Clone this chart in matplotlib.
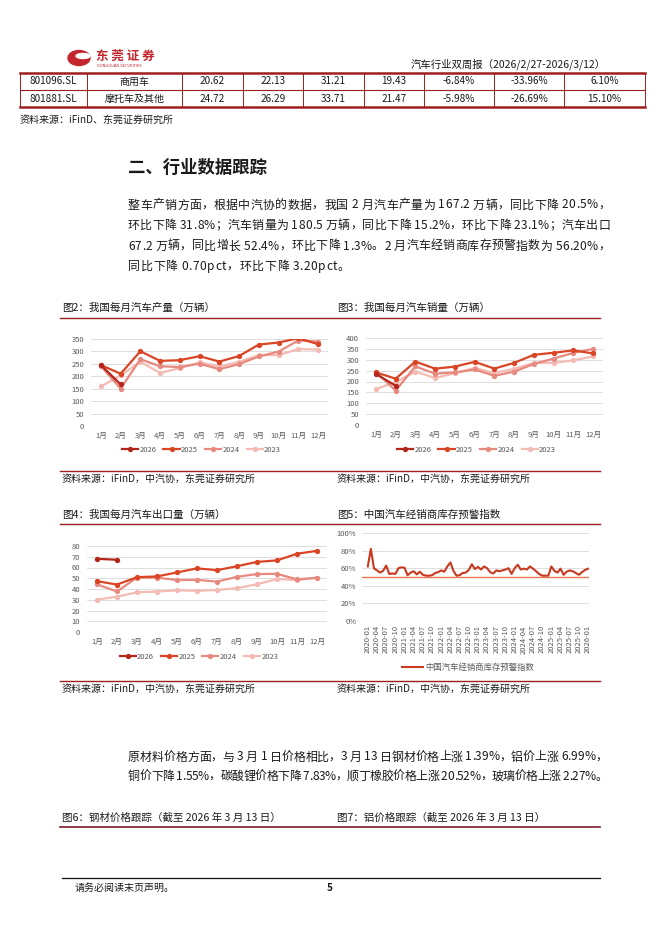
import numpy as np
import matplotlib.pyplot as plt
from matplotlib.lines import Line2D
from matplotlib.patches import Ellipse

plt.rcParams['font.family'] = ['Noto Sans CJK SC', 'DejaVu Sans']

W, H = 662, 936

# ---------------- data ----------------
table_rows = [
    ['801096.SL', '商用车', '20.62', '22.13', '31.21', '19.43', '-6.84%', '-33.96%', '6.10%'],
    ['801881.SL', '摩托车及其他', '24.72', '26.29', '33.71', '21.47', '-5.98%', '-26.69%', '15.10%'],
]

months = ['1月', '2月', '3月', '4月', '5月', '6月', '7月', '8月', '9月', '10月', '11月', '12月']
years = ['2026', '2025', '2024', '2023']

prod_2026 = [245.0, 167.2]
prod_2025 = [245.2, 210.3, 300.6, 261.9, 264.9, 280.9, 259.1, 281.5, 327.6, 335.9, 353.2, 329.0]
prod_2024 = [241.0, 150.6, 268.7, 240.3, 237.2, 250.7, 228.6, 249.2, 279.6, 299.6, 343.9, 339.6]
prod_2023 = [159.4, 203.2, 258.4, 213.3, 233.3, 256.1, 240.1, 258.2, 285.0, 285.5, 309.3, 307.7]

sales_2026 = [234.7, 180.5]
sales_2025 = [242.3, 212.9, 291.5, 259.0, 268.6, 290.4, 259.3, 285.7, 322.7, 332.2, 342.9, 329.0]
sales_2024 = [243.9, 158.4, 269.4, 235.9, 241.7, 255.3, 226.2, 245.3, 280.9, 305.3, 331.6, 349.9]
sales_2023 = [164.9, 197.6, 245.1, 215.9, 238.2, 262.2, 238.7, 258.2, 285.8, 285.3, 297.0, 315.6]

exp_2026 = [68.1, 67.2]
exp_2025 = [47.3, 44.1, 51.0, 51.7, 55.4, 59.2, 57.5, 61.2, 65.2, 66.6, 72.8, 75.5]
exp_2024 = [44.3, 37.7, 50.6, 50.6, 48.3, 48.5, 46.9, 51.3, 53.9, 54.1, 49.0, 50.4]
exp_2023 = [30.1, 32.9, 36.9, 37.6, 38.8, 38.3, 39.1, 40.8, 44.4, 49.3, 48.3, 50.6]

# dealer inventory warning index, monthly 2020-01 .. 2026-01 (%)
inv_index = [62.0, 82.0, 60.0, 57.5, 55.0, 57.0, 63.0, 53.5, 54.0, 53.5, 60.0, 61.0,
             60.5, 52.0, 55.0, 56.5, 53.0, 56.0, 52.5, 51.5, 51.5, 52.0, 54.5, 55.5,
             57.5, 56.0, 62.0, 66.5, 57.0, 51.5, 52.0, 54.5, 55.0, 58.0, 64.5, 59.0,
             61.5, 58.5, 62.0, 60.0, 55.5, 54.0, 57.5, 56.5, 57.5, 58.5, 60.0, 53.5,
             60.0, 64.0, 58.5, 59.5, 58.5, 62.0, 59.5, 56.5, 53.5, 51.5, 51.5, 51.5,
             62.0, 57.0, 55.0, 59.5, 52.5, 56.0, 57.5, 56.5, 54.5, 52.5, 55.5, 58.0, 59.4]
inv_labels = [f'{2020 + i // 12}-{i % 12 + 1:02d}' for i in range(0, 73, 3)]
warn_level = 50

para1 = ['整车产销方面，根据中汽协的数据，我国 2 月汽车产量为 167.2 万辆，同比下降 20.5%，',
         '环比下降 31.8%；汽车销量为 180.5 万辆，同比下降 15.2%，环比下降 23.1%；汽车出口',
         '67.2 万辆，同比增长 52.4%，环比下降 1.3%。2 月汽车经销商库存预警指数为 56.20%，',
         '同比下降 0.70pct，环比下降 3.20pct。']
para2 = ['原材料价格方面，与 3 月 1 日价格相比，3 月 13 日钢材价格上涨 1.39%，铝价上涨 6.99%，',
         '铜价下降 1.55%，碳酸锂价格下降 7.83%，顺丁橡胶价格上涨 20.52%，玻璃价格上涨 2.27%。']

colors = ['#B3261C', '#DA4526', '#E8897F', '#F4BAB4']
dark_red = '#9E1F1F'
txt_c = '#1A1A1A'
gray = '#595959'

fig = plt.figure(figsize=(6.62, 9.36), dpi=100)
renderer = fig.canvas.get_renderer()


def fx(x):
    return x / W


def fy(y):
    return 1 - y / H


def text(x, y, s, size=7.2, **kw):
    kw.setdefault('color', txt_c)
    kw.setdefault('va', 'center')
    return fig.text(fx(x), fy(y), s, fontsize=size, **kw)


def justified(x0, x1, y, s, size, stretch=True):
    # place characters one by one so the line fills x0..x1 like the report's justified text
    objs, widths = [], []
    for ch in s:
        if ch == ' ':
            objs.append(None)
            widths.append(size * 0.3)
            continue
        t = text(0, y, ch, size=size)
        objs.append(t)
        widths.append(t.get_window_extent(renderer).width)
    gap = (x1 - x0 - sum(widths)) / (len(s) - 1) if stretch else 0.6
    x = x0
    for t, w in zip(objs, widths):
        if t is not None:
            t.set_x(fx(x))
        x += w + gap


def hline(x0, x1, y, color=dark_red, lw=1.0):
    fig.add_artist(Line2D([fx(x0), fx(x1)], [fy(y), fy(y)], color=color, lw=lw))


def vline(x, y0, y1, color=dark_red, lw=0.7):
    fig.add_artist(Line2D([fx(x), fx(x)], [fy(y0), fy(y1)], color=color, lw=lw))


# ---------------- header ----------------
fig.add_artist(Ellipse((fx(79), fy(58)), fx(22), 15 / H, color='#C4262E'))
fig.add_artist(Ellipse((fx(83), fy(56)), fx(14), 5 / H, color='white'))
text(96, 56, '东 莞 证 券', size=9, color='#C4262E', weight='bold')
text(97, 66, 'DONGGUAN SECURITIES', size=2.6, color='#C4262E', family='DejaVu Sans')
text(411, 64, '汽车行业双周报（2026/2/27-2026/3/12）', size=7.5)

# ---------------- table ----------------
col_edges = [20, 87, 182, 243, 303, 364, 424, 494, 564, 645]
row_edges = [73, 90, 107]
hline(20, 645, 73, lw=1.8)
hline(20, 645, 90, lw=0.8)
hline(20, 645, 107, lw=1.8)
for xe in col_edges:
    vline(xe, 73, 107)
for r, row in enumerate(table_rows):
    yc = (row_edges[r] + row_edges[r + 1]) / 2
    for c, val in enumerate(row):
        xc = (col_edges[c] + col_edges[c + 1]) / 2
        text(xc, yc, val, size=7.2, ha='center')
text(20, 120, '资料来源：iFinD、东莞证券研究所', size=7.2)

# ---------------- section text ----------------
text(128, 168, '二、行业数据跟踪', size=12.5, weight='bold')
for i, line in enumerate(para1):
    justified(128, 610, 205 + i * 20.5, line, 8.6, stretch=i < len(para1) - 1)
for i, line in enumerate(para2):
    justified(128, 607, 757 + i * 19.5, line, 8.6)


# ---------------- monthly charts ----------------
def month_chart(box, series, ymax, ystep, legend_y):
    x0, y0, x1, y1 = box
    ax = fig.add_axes([fx(x0), fy(y1), fx(x1) - fx(x0), fy(y0) - fy(y1)])
    for k in range(len(series) - 1, -1, -1):
        vals = series[k]
        ax.plot(range(len(vals)), vals, color=colors[k], lw=1.6, marker='o', ms=2.8,
                label=years[k], zorder=3 + (3 - k))
    ax.set_xlim(-0.5, 11.5)
    ax.set_ylim(0, ymax)
    ax.set_yticks(np.arange(0, ymax + 1, ystep))
    ax.set_xticks(range(12))
    ax.set_xticklabels(months)
    ax.grid(axis='y', color='#D9D9D9', lw=0.6)
    ax.set_axisbelow(True)
    for s in ax.spines.values():
        s.set_visible(False)
    ax.tick_params(length=0, labelsize=5.5, colors=gray)
    ax.tick_params(axis='y', pad=5)
    ax.tick_params(axis='x', pad=4)
    handles = [Line2D([], [], color=colors[k], lw=1.6, marker='o', ms=2.8) for k in range(4)]
    fig.legend(handles, years, ncol=4, loc='center',
               bbox_to_anchor=(fx((x0 + x1) / 2 - 8), fy(legend_y)), frameon=False,
               fontsize=5.5, handlelength=2.1, handletextpad=0.2, columnspacing=0.9,
               labelcolor=gray)
    return ax


def caption(x, y, s):
    text(x, y, s, size=7.6)


# chart row 1
caption(62, 308, '图2：我国每月汽车产量（万辆）')
caption(337, 308, '图3：我国每月汽车销量（万辆）')
hline(60, 600, 318, lw=1.0)
month_chart((91, 339, 328, 426), [prod_2026, prod_2025, prod_2024, prod_2023], 350, 50, 450)
month_chart((366, 338, 603, 425), [sales_2026, sales_2025, sales_2024, sales_2023], 400, 50, 450)
hline(60, 600, 471, lw=1.0)
text(62, 479, '资料来源：iFinD，中汽协，东莞证券研究所', size=7.2)
text(337, 479, '资料来源：iFinD，中汽协，东莞证券研究所', size=7.2)

# chart row 2
caption(62, 515, '图4：我国每月汽车出口量（万辆）')
caption(337, 515, '图5：中国汽车经销商库存预警指数')
hline(60, 600, 524, lw=1.0)
month_chart((87, 546, 327, 632), [exp_2026, exp_2025, exp_2024, exp_2023], 80, 10, 657)

ax5 = fig.add_axes([fx(362), fy(621), fx(589) - fx(362), fy(533) - fy(621)])
ax5.plot(range(len(inv_index)), inv_index, color='#C8391F', lw=1.5, zorder=3)
ax5.axhline(warn_level, color='#E8764E', lw=1.0, zorder=2)
ax5.set_xlim(-1.9, 72.3)
ax5.set_ylim(0, 100)
ax5.set_yticks(np.arange(0, 101, 20))
ax5.set_yticklabels([f'{v}%' for v in range(0, 101, 20)])
ax5.set_xticks(range(0, 73, 3))
ax5.set_xticklabels(inv_labels, rotation=90)
ax5.grid(axis='y', color='#D9D9D9', lw=0.6)
ax5.set_axisbelow(True)
for s in ax5.spines.values():
    s.set_visible(False)
ax5.tick_params(length=0, labelsize=5.5, colors=gray)
ax5.tick_params(axis='y', pad=4)
ax5.tick_params(axis='x', pad=3)
fig.legend([Line2D([], [], color='#C8391F', lw=1.5)], ['中国汽车经销商库存预警指数'],
           loc='center', bbox_to_anchor=(fx(468), fy(667)), frameon=False, fontsize=6,
           handlelength=2.5, handletextpad=0.3, labelcolor=gray)

hline(60, 600, 681, lw=1.0)
text(62, 689, '资料来源：iFinD，中汽协，东莞证券研究所', size=7.2)
text(337, 689, '资料来源：iFinD，中汽协，东莞证券研究所', size=7.2)

# figures 6 / 7 captions
caption(62, 818, '图6：钢材价格跟踪（截至 2026 年 3 月 13 日）')
caption(337, 818, '图7：铝价格跟踪（截至 2026 年 3 月 13 日）')
hline(60, 600, 827, color='#7A1B2B', lw=1.2)

# footer
hline(62, 600, 878, color='#111111', lw=0.9)
text(75, 888, '请务必阅读末页声明。', size=7.2)
text(327, 888, '5', size=7.2, weight='bold')

fig.savefig('out.png', dpi=100, facecolor='white')
